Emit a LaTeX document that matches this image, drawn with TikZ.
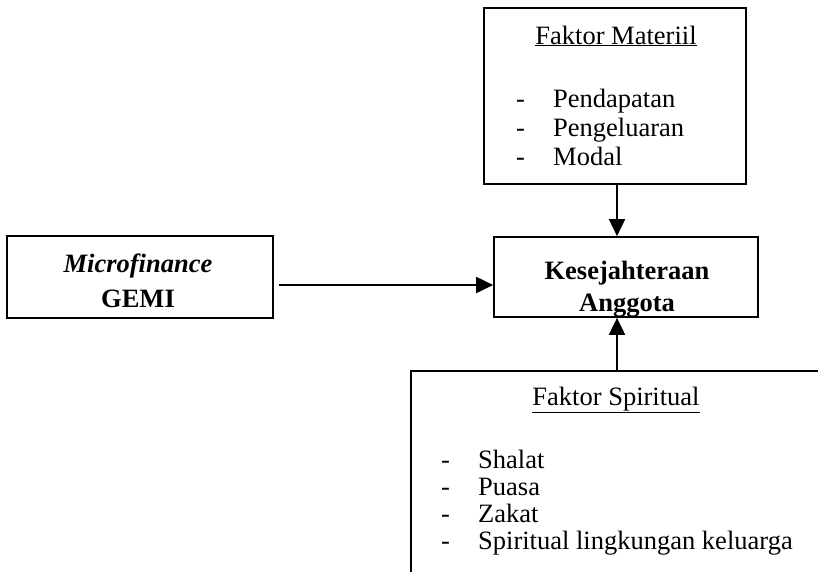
\documentclass[tikz,border=0pt]{standalone}
\usepackage{fontspec}
\setmainfont{Liberation Serif}
\usetikzlibrary{arrows.meta,positioning}
\tikzset{box/.style={draw,rectangle,line width=1.7pt,inner sep=0pt},
	txt/.style={anchor=base,inner sep=0pt,font=\fontsize{26.5}{30}\selectfont},
	tebal/.style={txt,font=\fontsize{26.5}{30}\selectfont\bfseries},
	item/.style={txt,anchor=base west},
	link/.style={line width=1.9pt,-{Triangle[length=17pt,width=16pt]}}}
\newcommand{\butir}[1]{\makebox[37pt][l]{-}#1}

\begin{document}
\begin{tikzpicture}[x=1pt,y=-1pt]
\useasboundingbox (0,0) rectangle (818,571);
\clip (0,0) rectangle (818,571);
\node [box,minimum width=262pt,minimum height=176pt] (materiil) at (615,96) {};
\node [box,minimum width=264pt,minimum height=80pt] (sejahtera) at (626,277) {};
\node [box,minimum width=266pt,minimum height=82pt] (micro) at (140,277) {};
\node [box,anchor=north west,minimum width=500pt,minimum height=300pt] (spiritual) at (410,370) {};
% faktor materiil
\node [txt] (tm) at (616,44) {\underline{Faktor Materiil}};
\node [item] (m1) at (516,107) {\butir{Pendapatan}};
\node [item] (m2) at (516,136) {\butir{Pengeluaran}};
\node [item] (m3) at (516,165) {\butir{Modal}};
% microfinance
\node [tebal] (g1) at (138,272) {\textit{Microfinance}};
\node [tebal] (g2) at (138,307) {GEMI};
% kesejahteraan
\begin{scope}
\clip (sejahtera.south west) rectangle (sejahtera.north east);
\node [tebal] (k1) at (627,279) {Kesejahteraan};
\node [tebal] (k2) at (627,311) {Anggota};
\end{scope}
% faktor spiritual
\node [txt] (ts) at (616,405) {\underline{Faktor Spiritual}};
\node [item] (s1) at (441,468) {\butir{Shalat}};
\node [item] (s2) at (441,495) {\butir{Puasa}};
\node [item] (s3) at (441,522) {\butir{Zakat}};
\node [item] (s4) at (441,549) {\butir{Spiritual lingkungan keluarga}};
% panah
\coordinate (atas) at ([xshift=-9pt]sejahtera.north);
\coordinate (bawah) at ([xshift=-9pt]sejahtera.south);
\draw [link] (materiil.south -| atas) -- (atas);
\draw [link] (spiritual.north -| bawah) -- (bawah);
\draw [link,shorten <=5pt] ([yshift=-8pt]micro.east) -- ([yshift=-8pt]sejahtera.west);
\end{tikzpicture}
\end{document}
